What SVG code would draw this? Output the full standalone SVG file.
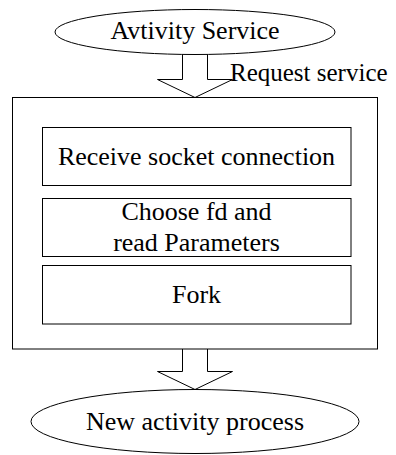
<svg xmlns="http://www.w3.org/2000/svg" width="396" height="455" viewBox="0 0 396 455">
<style>
.s{fill:none;stroke:#000;stroke-width:1}
.t{font-family:"Liberation Serif","Times New Roman",serif;font-size:26px;fill:#000;text-anchor:middle}
</style>
<rect width="396" height="455" fill="#fff"/>
<g id="connectors">
<polyline class="s" points="182.5,54.5 182.5,79.5 157.5,79.5 195,97.5 232.5,79.5 207.5,79.5 207.5,54.5"/>
<polyline class="s" points="182.5,349 182.5,371.5 157.5,371.5 195,389.5 232.5,371.5 207.5,371.5 207.5,349"/>
<text x="230" y="81" font-family="Liberation Serif, serif" font-size="25" fill="#000">Request service</text>
</g>
<g id="activity-service">
<ellipse class="s" cx="195" cy="32" rx="140" ry="22.5"/>
<text class="t" x="195" y="39">Avtivity Service</text>
</g>
<g id="container">
<rect class="s" x="12.5" y="97.5" width="365" height="251.5"/>
</g>
<g id="receive">
<rect class="s" x="42.5" y="127.5" width="308.5" height="58"/>
<text class="t" x="196.5" y="165">Receive socket connection</text>
</g>
<g id="choose">
<rect class="s" x="42.5" y="198.5" width="308.5" height="58"/>
<text class="t" x="196.5" y="220">Choose fd and</text>
<text class="t" x="196.5" y="251">read Parameters</text>
</g>
<g id="fork">
<rect class="s" x="42.5" y="265.5" width="308.5" height="58.5"/>
<text class="t" x="196.5" y="303">Fork</text>
</g>
<g id="new-process">
<ellipse class="s" cx="195" cy="421.5" rx="164" ry="32"/>
<text class="t" x="195" y="430">New activity process</text>
</g>
</svg>
